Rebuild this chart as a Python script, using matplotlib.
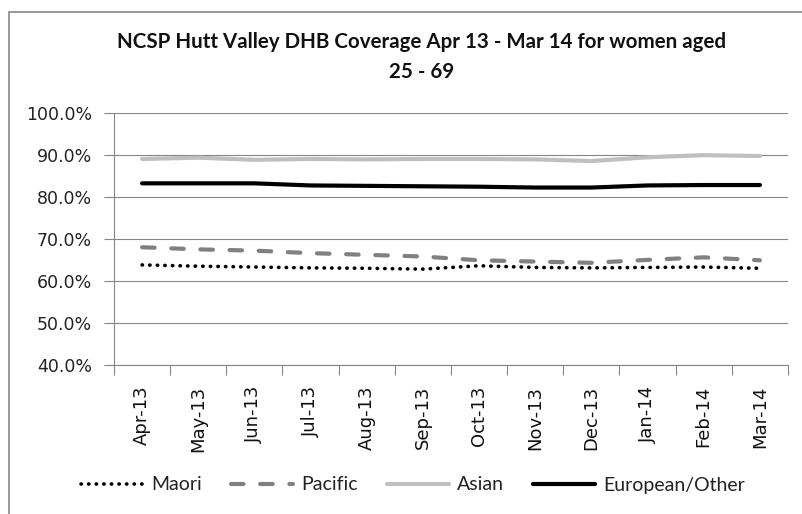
import numpy as np
import matplotlib
matplotlib.use("Agg")
import matplotlib.pyplot as plt
from matplotlib.patches import Rectangle

# data (coverage %)
months = ["Apr-13", "May-13", "Jun-13", "Jul-13", "Aug-13", "Sep-13",
          "Oct-13", "Nov-13", "Dec-13", "Jan-14", "Feb-14", "Mar-14"]
maori = [63.8, 63.5, 63.3, 63.1, 63.0, 62.8, 63.6, 63.2, 63.1, 63.2, 63.3, 63.0]
pacific = [68.0, 67.5, 67.2, 66.6, 66.2, 65.8, 64.9, 64.6, 64.3, 65.0, 65.6, 64.9]
asian = [89.0, 89.3, 88.8, 89.0, 88.9, 89.0, 89.0, 88.9, 88.5, 89.4, 89.9, 89.7]
european = [83.2, 83.2, 83.2, 82.7, 82.6, 82.5, 82.4, 82.2, 82.2, 82.7, 82.8, 82.8]

title = "NCSP Hutt Valley DHB Coverage Apr 13 - Mar 14 for women aged\n25 - 69"
grid_col = "#868686"

fig = plt.figure(figsize=(8.03, 5.14), dpi=100)
W, H = 803, 514
ax = fig.add_axes([114 / W, 1 - 365 / H, (788 - 114) / W, (365 - 112.7) / H])

x = np.arange(len(months))
ax.plot(x, maori, color="black", lw=2.6, linestyle=(0, (0.1, 2.0)),
        dash_capstyle="round", label="Maori")
ax.plot(x, pacific, color="#808080", lw=3.0, linestyle=(0, (3, 4)),
        dash_capstyle="round", label="Pacific")
ax.plot(x, asian, color="#bfbfbf", lw=3.0, solid_capstyle="round", label="Asian")
ax.plot(x, european, color="black", lw=3.0, solid_capstyle="round",
        label="European/Other")

ax.set_xlim(-0.5, len(months) - 0.5)
ax.set_ylim(40, 100)
ax.set_yticks(np.arange(40, 101, 10))
ax.set_yticklabels(["%.1f%%" % v for v in np.arange(40, 101, 10)],
                   fontsize=12.5, family="DejaVu Sans", color="#222222")
ax.yaxis.grid(True, color=grid_col, lw=0.8)
ax.set_axisbelow(True)
ax.tick_params(axis="y", length=7, width=0.8, color=grid_col, pad=9)

ax.set_xticks(x)
ax.set_xticklabels(months, rotation=90, fontsize=13, family="DejaVu Sans",
                   color="#111111", va="top", ha="center")
ax.set_xticks(np.arange(-0.5, len(months), 1), minor=True)
ax.tick_params(axis="x", which="major", length=0, pad=15)
ax.tick_params(axis="x", which="minor", length=7, width=0.8, color=grid_col)

for side in ["top", "right"]:
    ax.spines[side].set_visible(False)
for side in ["left", "bottom"]:
    ax.spines[side].set_color(grid_col)
    ax.spines[side].set_linewidth(0.8)

fig.text(422 / W, 1 - 57 / H, title, ha="center", va="center",
         fontsize=14.8, fontweight="bold", family="Lato", color="#111111",
         linespacing=1.6)

leg = fig.legend(loc="center", bbox_to_anchor=(413 / W, 1 - 485 / H), ncol=4,
                 frameon=False, handlelength=3.2, handletextpad=0.4,
                 columnspacing=1.5, prop={"family": "Lato", "size": 14})
for t in leg.get_texts():
    t.set_color("#222222")

# chart border (cut off at right and bottom in the reference)
fig.patches.append(Rectangle((9 / W, -0.1), 1.2, 1 - 11.7 / H + 0.1,
                             transform=fig.transFigure, fill=False,
                             edgecolor=grid_col, lw=1.2))

fig.savefig("out.png", dpi=100)
